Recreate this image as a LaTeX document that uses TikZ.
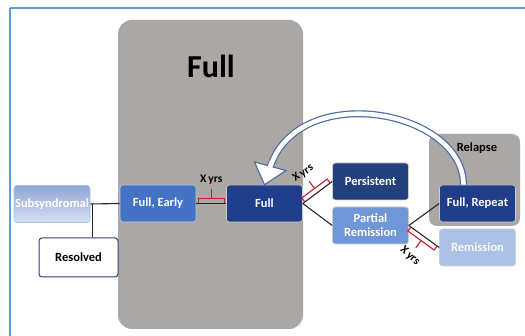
\documentclass[tikz,border=0pt]{standalone}
\usepackage{fontspec}
\setmainfont{Carlito}
\usepackage{xcolor}
\usetikzlibrary{calc}

\definecolor{framecol}{RGB}{95,155,225}
\definecolor{panelgray}{RGB}{171,167,165}
\definecolor{darkb}{RGB}{33,62,138}
\definecolor{midb}{RGB}{68,114,196}
\definecolor{persistb}{RGB}{36,63,125}
\definecolor{partb}{RGB}{111,150,215}
\definecolor{remb}{RGB}{172,193,230}
\definecolor{arrowb}{RGB}{75,105,165}
\definecolor{brkred}{RGB}{200,30,40}

% bracket with "X yrs" beside a connector
\newcommand{\xyrs}[4]{%
    \coordinate (b1) at ($(#1)!0.07!(#2)$);
    \coordinate (b2) at ($(#1)!0.93!(#2)$);
    \coordinate (bm) at ($(#1)!0.5!(#2)$);
    \coordinate (o1) at ($(b1)!5pt!#3:(b2)$);
    \coordinate (o2) at ($(b2)+(o1)-(b1)$);
    \draw[brk] (b1) -- (o1) -- (o2) -- (b2);
    \draw[brk] ($(bm)!5pt!#3:(b2)$) -- ($(bm)!14pt!#3:(b2)$);
    \node[yrs, rotate=#4] at ($(bm)!24pt!#3:(b2)$) {X\,yrs};
}

\begin{document}
\begin{tikzpicture}[x=1pt,y=-1pt,
    box/.style={rounded corners=3pt, minimum width=76pt, minimum height=37pt,
        text=white, align=center, draw=white!60!gray, line width=0.6pt,
        font=\bfseries\fontsize{12.5}{14}\selectfont},
    panel/.style={fill=panelgray, rounded corners=#1},
    link/.style={draw=black!85, line width=1.1pt},
    brk/.style={draw=brkred, line width=1.1pt},
    yrs/.style={font=\bfseries\fontsize{11.5}{12}\selectfont, inner sep=0pt}]
    \useasboundingbox (0,0) rectangle (525,336);
    \fill[white] (0,0) rectangle (525,336);
    \draw[framecol, line width=1.5pt] (10,8) -- (620,8) (10,8) -- (10,400);

    % grey panels
    \fill[panel=14pt] (118,20) rectangle (303,329);
    \fill[panel=8pt] (429,134) rectangle (520,226);
    \node[font=\bfseries\fontsize{32}{34}\selectfont] (title) at (211,66) {Full};

    % relapse arrow
    \coordinate (arcS) at (463.5,185);
    \coordinate (arcE) at (270.5,166);
    \draw[arrowb, line width=7pt] (arcS) .. controls +(0,-75) and +(30,-86) .. (arcE);
    \draw[white, line width=4.6pt] (arcS) .. controls +(0,-75) and +(30,-86) .. (arcE);
    \node[font=\bfseries\fontsize{12.5}{13}\selectfont] (relapse) at (477,148) {Relapse};

    % states
    \node[box, top color=remb!80!darkb, bottom color=remb!50!white, draw=remb, inner sep=0pt] (subsyn) at (52,204) {Subsyndromal};
    \node[box, fill=white, text=black, draw=persistb, minimum width=79pt, minimum height=39pt, line width=1pt] (resolved) at (78.5,257.5) {Resolved};
    \node[box, fill=midb] (fullearly) at (158,203.5) {Full, Early};
    \node[box, fill=darkb] (full) at (264.5,203.5) {Full};
    \node[box, fill=persistb] (persist) at (370.5,181.5) {Persistent};
    \node[box, fill=partb] (partrem) at (370.5,225.5) {Partial\\Remission};
    \node[box, fill=darkb] (fullrep) at (477.5,203.5) {Full, Repeat};
    \node[box, fill=remb, text=white!92!remb] (remis) at (477.5,247.5) {Remission};

    % arrow head onto Full
    \draw[arrowb, fill=white, line width=1.1pt, line join=miter]
        ($(arcE)+(-16,-4)$) -- (full.north) -- ($(arcE)+(15.5,4.5)$) -- cycle;
    \draw[white, line width=4.6pt] ($(arcE)+(1.2,-3.8)$) -- ($(arcE)+(-0.5,1.4)$);

    % connectors
    \coordinate (jn) at ($(subsyn.east)+(2,0)$);
    \draw[link] (subsyn.east) -- (fullearly.west);
    \draw[link] (jn) -- (jn |- resolved.north);
    \draw[link] (fullearly.east) -- (full.west);
    \draw[link] (full.east) -- (persist.west);
    \draw[link] (full.east) -- (partrem.west);
    \draw[link] (partrem.east) -- (fullrep.west);
    \draw[link] (partrem.east) -- (remis.west);

    \xyrs{fullearly.east}{full.west}{90}{0}
    \xyrs{full.east}{persist.west}{90}{34}
    \xyrs{partrem.east}{remis.west}{-90}{-42}
\end{tikzpicture}
\end{document}
